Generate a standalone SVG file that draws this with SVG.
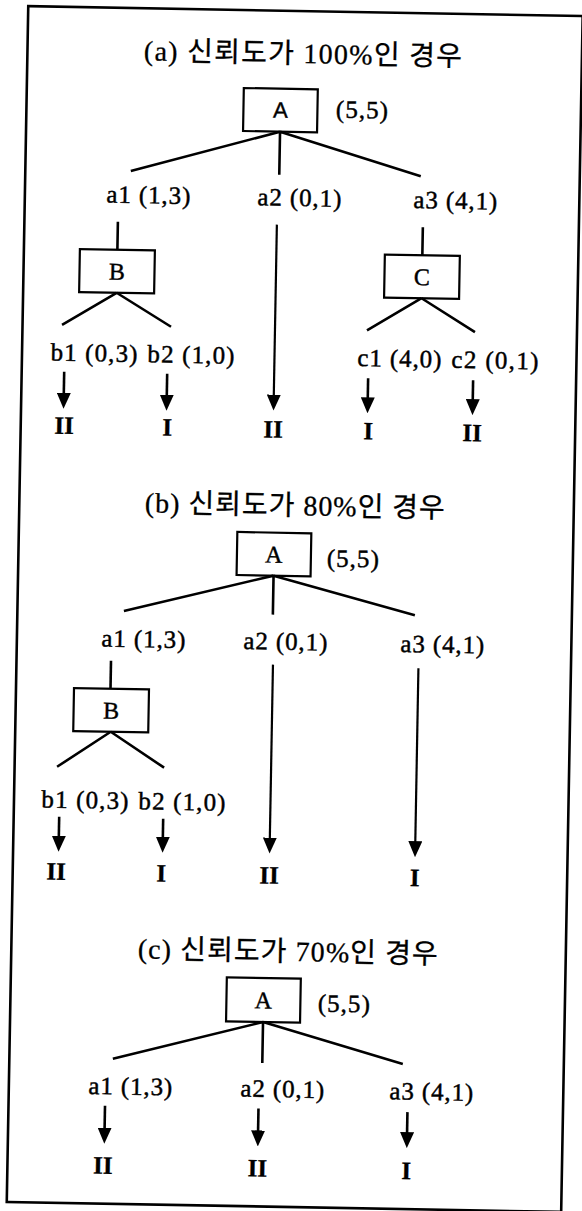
<svg xmlns="http://www.w3.org/2000/svg" width="582" height="1211" viewBox="0 0 582 1211">
<style>
.t{font-family:"Liberation Serif","Noto Sans CJK KR",serif;font-size:28px;fill:#000;stroke:#000;stroke-width:0.3;text-anchor:middle}
.l{font-family:"Liberation Serif",serif;font-size:25px;fill:#000;stroke:#000;stroke-width:0.45}
.bx{fill:#fff;stroke:#000;stroke-width:2.2}
.n{font-family:"Liberation Serif",serif;font-size:24px;fill:#000;stroke:#000;stroke-width:0.4;text-anchor:middle}
.ns{font-family:"Liberation Sans",sans-serif;font-size:22px;fill:#000;stroke:#000;stroke-width:0.4;text-anchor:middle}
.r{font-family:"Liberation Serif",serif;font-size:25px;font-weight:bold;fill:#000;stroke:#000;stroke-width:0.3;text-anchor:middle}
.e{stroke:#000;stroke-width:2.6;fill:none}
.ar{stroke:#000;stroke-width:2.6;fill:none;marker-end:url(#ah)}
.al{stroke:#000;stroke-width:2.2;fill:none;marker-end:url(#ah)}
</style>
<defs>
<marker id="ah" viewBox="0 0 16 14" refX="2" refY="7" markerWidth="16" markerHeight="14" markerUnits="userSpaceOnUse" orient="auto"><path d="M0,0 L16,7 L0,14 z" fill="#000"/></marker>
</defs>
<rect x="0" y="0" width="582" height="1211" fill="#fff"/>
<g transform="rotate(1.03 294 607)">
<rect id="frame" x="17.5" y="11" width="554.5" height="1196" fill="none" stroke="#000" stroke-width="2.6"/>

<!-- Section (a) -->
<g id="a-title"><text class="t" x="293" y="63" textLength="318" lengthAdjust="spacing">(a) 신뢰도가 100%인 경우</text></g>
<g id="a-A"><rect class="bx" x="234.5" y="89" width="74" height="43"/><text class="ns" x="271.5" y="118">A</text><text class="l" x="327" y="117" textLength="52" lengthAdjust="spacing">(5,5)</text></g>
<g id="a-a1"><text class="l" x="99" y="206" textLength="84" lengthAdjust="spacing">a1 (1,3)</text></g>
<g id="a-a2"><text class="l" x="250" y="206" textLength="84" lengthAdjust="spacing">a2 (0,1)</text></g>
<g id="a-a3"><text class="l" x="406" y="206" textLength="84" lengthAdjust="spacing">a3 (4,1)</text></g>
<g id="a-B"><rect class="bx" x="73.5" y="253" width="75" height="43"/><text class="n" x="111" y="283">B</text></g>
<g id="a-C"><rect class="bx" x="378.5" y="253" width="75" height="43"/><text class="n" x="416" y="283">C</text></g>
<g id="a-b1"><text class="l" x="46" y="365" textLength="87" lengthAdjust="spacing">b1 (0,3)</text></g>
<g id="a-b2"><text class="l" x="143" y="365" textLength="87" lengthAdjust="spacing">b2 (1,0)</text></g>
<g id="a-c1"><text class="l" x="353" y="365" textLength="84" lengthAdjust="spacing">c1 (4,0)</text></g>
<g id="a-c2"><text class="l" x="447" y="365" textLength="87" lengthAdjust="spacing">c2 (0,1)</text></g>
<g id="a-r1"><text class="r" x="61" y="438">II</text></g>
<g id="a-r2"><text class="r" x="164" y="438">I</text></g>
<g id="a-r3"><text class="r" x="270" y="438">II</text></g>
<g id="a-r4"><text class="r" x="365" y="438">I</text></g>
<g id="a-r5"><text class="r" x="469" y="438">II</text></g>

<!-- Section (b) -->
<g id="b-title"><text class="t" x="293" y="515" textLength="300" lengthAdjust="spacing">(b) 신뢰도가 80%인 경우</text></g>
<g id="b-A"><rect class="bx" x="236" y="533" width="74" height="43"/><text class="n" x="273" y="563">A</text><text class="l" x="326" y="566" textLength="52" lengthAdjust="spacing">(5,5)</text></g>
<g id="b-a1"><text class="l" x="102" y="650" textLength="84" lengthAdjust="spacing">a1 (1,3)</text></g>
<g id="b-a2"><text class="l" x="244" y="650" textLength="84" lengthAdjust="spacing">a2 (0,1)</text></g>
<g id="b-a3"><text class="l" x="401" y="650" textLength="84" lengthAdjust="spacing">a3 (4,1)</text></g>
<g id="b-B"><rect class="bx" x="75.5" y="692" width="75" height="43"/><text class="n" x="113" y="722">B</text></g>
<g id="b-b1"><text class="l" x="45" y="812" textLength="87" lengthAdjust="spacing">b1 (0,3)</text></g>
<g id="b-b2"><text class="l" x="142" y="812" textLength="87" lengthAdjust="spacing">b2 (1,0)</text></g>
<g id="b-r1"><text class="r" x="61" y="884">II</text></g>
<g id="b-r2"><text class="r" x="166" y="884">I</text></g>
<g id="b-r3"><text class="r" x="274" y="884">II</text></g>
<g id="b-r4"><text class="r" x="419.5" y="884">I</text></g>

<!-- Section (c) -->
<g id="c-title"><text class="t" x="294" y="961" textLength="300" lengthAdjust="spacing">(c) 신뢰도가 70%인 경우</text></g>
<g id="c-A"><rect class="bx" x="233.5" y="978.5" width="74" height="44"/><text class="n" x="270.5" y="1009">A</text><text class="l" x="325" y="1011" textLength="52" lengthAdjust="spacing">(5,5)</text></g>
<g id="c-a1"><text class="l" x="97" y="1097.5" textLength="84" lengthAdjust="spacing">a1 (1,3)</text></g>
<g id="c-a2"><text class="l" x="249" y="1097.5" textLength="84" lengthAdjust="spacing">a2 (0,1)</text></g>
<g id="c-a3"><text class="l" x="398" y="1097.5" textLength="84" lengthAdjust="spacing">a3 (4,1)</text></g>
<g id="c-r1"><text class="r" x="113" y="1177">II</text></g>
<g id="c-r2"><text class="r" x="267.5" y="1177">II</text></g>
<g id="c-r3"><text class="r" x="416.5" y="1177">I</text></g>

<g id="connectors">
<!-- (a) -->
<path class="e" d="M271.5,132 L123,174 M271.5,132 L271.5,175 M271.5,132 L413,174"/>
<path class="e" d="M111,225 L111,253 M416,225 L416,253"/>
<path class="e" d="M111,296 L57,329 M111,296 L166,329 M416,296 L362,329 M416,296 L470,329"/>
<line class="ar" x1="60" y1="376" x2="60" y2="399"/>
<line class="ar" x1="163" y1="376" x2="163" y2="399"/>
<line class="ar" x1="364" y1="377" x2="364" y2="398"/>
<line class="ar" x1="469" y1="377" x2="469" y2="398"/>
<line class="al" x1="270" y1="225" x2="270" y2="397"/>
<!-- (b) -->
<path class="e" d="M273,576 L124,614 M273,576 L273,615 M273,576 L415,613"/>
<path class="e" d="M112,664 L112,692"/>
<path class="e" d="M113,735 L60,771 M113,735 L167,770"/>
<line class="ar" x1="63" y1="821" x2="63" y2="842"/>
<line class="ar" x1="167" y1="821" x2="167" y2="841"/>
<line class="al" x1="274" y1="665" x2="274" y2="840"/>
<line class="al" x1="419.5" y1="666" x2="419.5" y2="841"/>
<!-- (c) -->
<path class="e" d="M270.5,1022.5 L121,1062 M270.5,1022.5 L270.5,1063.5 M270.5,1022.5 L411,1062"/>
<line class="ar" x1="114" y1="1109" x2="114" y2="1133"/>
<line class="ar" x1="267.5" y1="1109" x2="267.5" y2="1133"/>
<line class="ar" x1="416.5" y1="1110" x2="416.5" y2="1132"/>
</g>
</g>
</svg>
